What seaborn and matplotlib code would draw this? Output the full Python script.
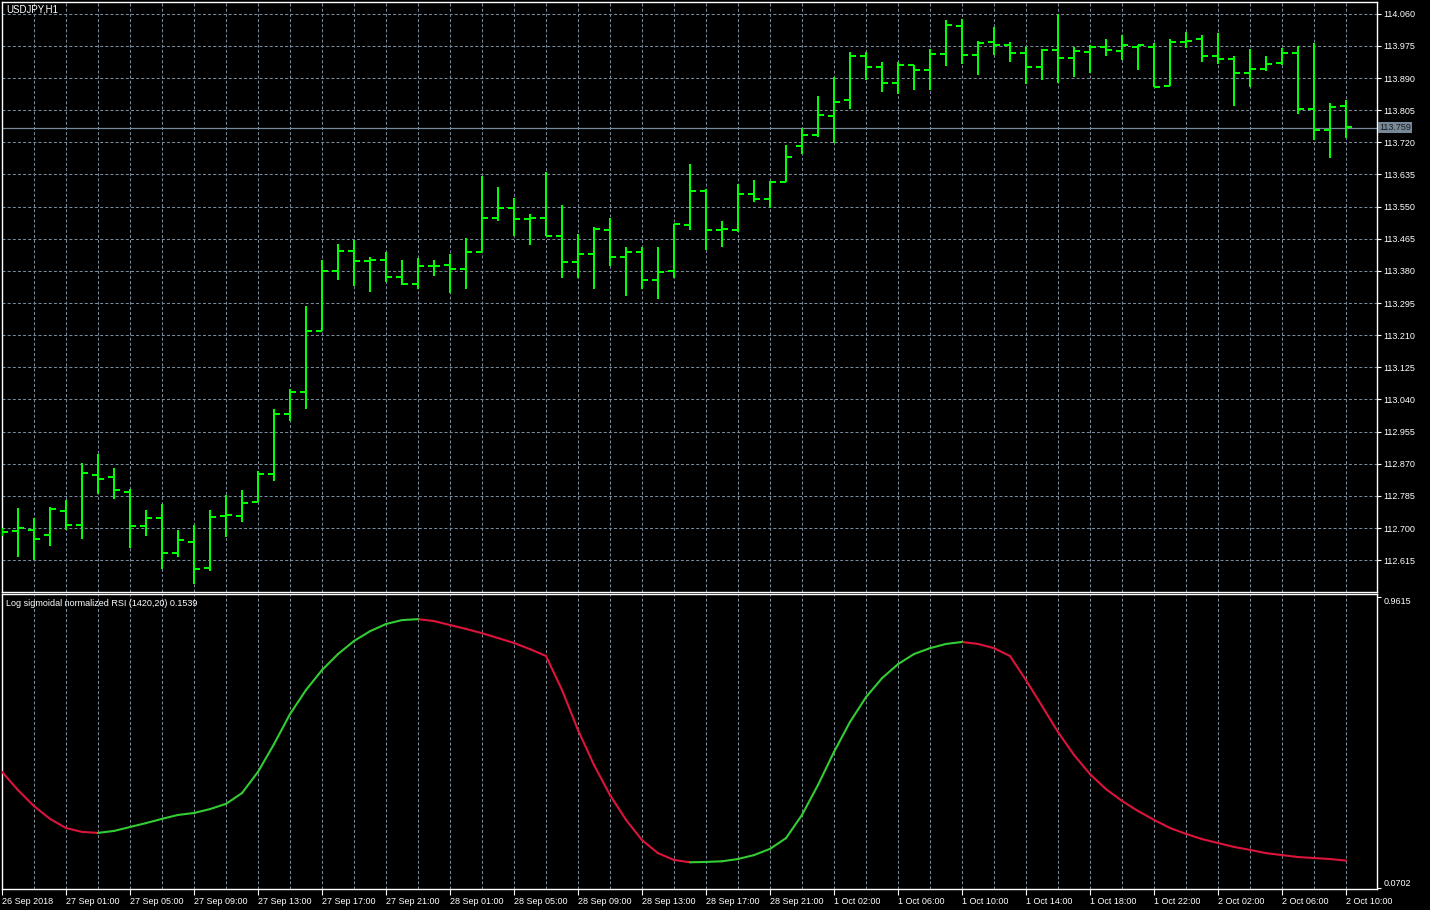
import numpy as np
import pandas as pd
import matplotlib
matplotlib.use("Agg")
import matplotlib.pyplot as plt
import seaborn as sns

# ---------------- data ----------------
symbol_title = "USDJPY,H1"
indicator_title = "Log sigmoidal normalized RSI (1420,20) 0.1539"

opens = [112.688, 112.693, 112.696, 112.682, 112.746, 112.709, 112.841, 112.836, 112.795, 112.706,
         112.727, 112.634, 112.664, 112.595, 112.733, 112.732, 112.769, 112.843, 113.001, 113.060,
         113.222, 113.380, 113.433, 113.407, 113.409, 113.363, 113.346, 113.394, 113.396, 113.385,
         113.431, 113.521, 113.547, 113.517, 113.521, 113.473, 113.404, 113.426, 113.489, 113.418,
         113.431, 113.357, 113.381, 113.502, 113.592, 113.487, 113.489, 113.583, 113.571, 113.615,
         113.709, 113.739, 113.790, 113.833, 113.948, 113.919, 113.878, 113.925, 113.911, 113.953,
         114.027, 113.950, 113.985, 113.977, 113.957, 113.918, 113.965, 113.944, 113.960, 113.971,
         113.961, 113.973, 113.973, 113.868, 113.985, 113.992, 113.947, 113.940, 113.903, 113.913,
         113.929, 113.956, 113.808, 113.752, 113.816]
highs = [112.700, 112.752, 112.726, 112.755, 112.774, 112.871, 112.896, 112.858, 112.803, 112.747,
         112.765, 112.695, 112.707, 112.749, 112.787, 112.800, 112.851, 113.015, 113.069, 113.287,
         113.408, 113.452, 113.461, 113.417, 113.429, 113.408, 113.415, 113.410, 113.424, 113.468,
         113.631, 113.601, 113.572, 113.530, 113.642, 113.554, 113.477, 113.495, 113.519, 113.444,
         113.444, 113.444, 113.505, 113.662, 113.596, 113.511, 113.610, 113.620, 113.618, 113.712,
         113.758, 113.842, 113.892, 113.959, 113.959, 113.932, 113.932, 113.925, 113.968, 114.044,
         114.046, 113.988, 114.025, 113.986, 113.972, 113.966, 114.058, 113.972, 113.978, 113.994,
         114.005, 113.978, 113.982, 113.994, 114.012, 114.005, 114.008, 113.949, 113.967, 113.949,
         113.970, 113.974, 113.983, 113.824, 113.833]
lows = [112.680, 112.624, 112.615, 112.653, 112.696, 112.672, 112.791, 112.778, 112.647, 112.680,
        112.593, 112.624, 112.553, 112.587, 112.676, 112.717, 112.768, 112.825, 112.984, 113.015,
        113.221, 113.356, 113.340, 113.325, 113.351, 113.344, 113.333, 113.367, 113.321, 113.333,
        113.431, 113.513, 113.473, 113.449, 113.473, 113.360, 113.362, 113.331, 113.394, 113.313,
        113.333, 113.305, 113.360, 113.488, 113.435, 113.442, 113.482, 113.561, 113.546, 113.615,
        113.690, 113.735, 113.719, 113.809, 113.885, 113.854, 113.847, 113.859, 113.859, 113.921,
        113.927, 113.897, 113.950, 113.932, 113.874, 113.884, 113.876, 113.892, 113.903, 113.949,
        113.937, 113.911, 113.865, 113.868, 113.969, 113.933, 113.927, 113.816, 113.865, 113.908,
        113.924, 113.794, 113.726, 113.679, 113.731]
closes = [112.690, 112.701, 112.672, 112.751, 112.709, 112.846, 112.830, 112.801, 112.706, 112.727,
          112.634, 112.669, 112.593, 112.729, 112.734, 112.767, 112.843, 113.001, 113.060, 113.222,
          113.380, 113.433, 113.407, 113.409, 113.363, 113.345, 113.393, 113.394, 113.385, 113.430,
          113.521, 113.547, 113.517, 113.521, 113.473, 113.404, 113.426, 113.492, 113.418, 113.431,
          113.357, 113.378, 113.504, 113.592, 113.487, 113.491, 113.583, 113.571, 113.615, 113.680,
          113.739, 113.793, 113.827, 113.948, 113.919, 113.878, 113.924, 113.911, 113.954, 114.030,
          113.950, 113.982, 113.977, 113.957, 113.918, 113.964, 113.942, 113.961, 113.971, 113.965,
          113.977, 113.978, 113.865, 113.985, 113.987, 113.947, 113.940, 113.903, 113.913, 113.927,
          113.956, 113.808, 113.752, 113.813, 113.760]
rsi_values = [0.426, 0.370, 0.321, 0.282, 0.254, 0.242, 0.239, 0.245, 0.257, 0.269,
              0.282, 0.294, 0.300, 0.312, 0.328, 0.361, 0.426, 0.511, 0.603, 0.677,
              0.738, 0.787, 0.827, 0.857, 0.879, 0.891, 0.894, 0.888, 0.876, 0.864,
              0.851, 0.836, 0.821, 0.802, 0.781, 0.677, 0.554, 0.447, 0.355, 0.279,
              0.217, 0.177, 0.156, 0.149, 0.150, 0.152, 0.159, 0.171, 0.190, 0.223,
              0.294, 0.386, 0.487, 0.579, 0.655, 0.713, 0.756, 0.787, 0.805, 0.818,
              0.824, 0.818, 0.805, 0.781, 0.707, 0.628, 0.548, 0.478, 0.419, 0.373,
              0.337, 0.306, 0.279, 0.254, 0.236, 0.220, 0.208, 0.196, 0.187, 0.177,
              0.171, 0.165, 0.162, 0.159, 0.154]
time_labels = ["26 Sep 2018", "27 Sep 01:00", "27 Sep 05:00", "27 Sep 09:00", "27 Sep 13:00",
               "27 Sep 17:00", "27 Sep 21:00", "28 Sep 01:00", "28 Sep 05:00", "28 Sep 09:00",
               "28 Sep 13:00", "28 Sep 17:00", "28 Sep 21:00", "1 Oct 02:00", "1 Oct 06:00",
               "1 Oct 10:00", "1 Oct 14:00", "1 Oct 18:00", "1 Oct 22:00", "2 Oct 02:00",
               "2 Oct 06:00", "2 Oct 10:00"]
price_ticks = [112.615, 112.700, 112.785, 112.870, 112.955, 113.040, 113.125, 113.210, 113.295,
               113.380, 113.465, 113.550, 113.635, 113.720, 113.805, 113.890, 113.975, 114.060]
current_price = 113.759
ind_max_label = 0.9615
ind_min_label = 0.0702

# ---------------- style ----------------
sns.set_theme(style="dark")
plt.rcParams['font.family'] = ['Liberation Sans', 'DejaVu Sans']
plt.rcParams['lines.scale_dashes'] = False

BG = "black"
GRID = "#778899"
BAR = "#00FF00"
UP = "#32CD32"
DOWN = "#DC143C"
FS = 6.5

W, H = 1430, 910
fig = plt.figure(figsize=(W / 100, H / 100), dpi=100, facecolor=BG)

def fx(px):
    return px / W

def fy(py):
    return 1 - py / H

ax = fig.add_axes([fx(2), fy(592), fx(1377) - fx(2), fy(2) - fy(592)])
ax2 = fig.add_axes([fx(2), fy(889), fx(1377) - fx(2), fy(594) - fy(889)])

n = len(closes)
bars = np.arange(n)
xmax = (1377 - 2) / 16.0
dash = (0, (2.2, 1.5))

for a in (ax, ax2):
    a.set_facecolor(BG)
    a.set_xlim(0, xmax)
    for s in a.spines.values():
        s.set_color("white")
        s.set_linewidth(1.0)
        s.set_visible(True)
    for gx in range(2, n, 2):
        a.axvline(gx, color=GRID, lw=0.75, ls=dash, zorder=0)

# ---- main price pane ----
ax.set_ylim(112.531, 114.091)
for py in price_ticks:
    ax.axhline(py, color=GRID, lw=0.75, ls=dash, zorder=0)
ax.axhline(current_price, color=GRID, lw=0.9, zorder=1)

tw = 0.36
ax.vlines(bars, lows, highs, color=BAR, lw=1.45, zorder=3)
ax.hlines(opens, bars - tw, bars, color=BAR, lw=1.45, zorder=3)
ax.hlines(closes, bars, bars + tw, color=BAR, lw=1.45, zorder=3)

ax.yaxis.tick_right()
ax.set_yticks(price_ticks)
ax.set_yticklabels([f"{p:.3f}" for p in price_ticks])
ax.tick_params(axis="y", colors="white", labelcolor="white", labelsize=FS,
               direction="out", length=3, width=0.8, pad=1.5, right=True, left=False)
ax.set_xticks([])
ax.set_xlabel("")
ax.set_ylabel("")
ax.text(1.0, current_price, f"{current_price:.3f}", transform=ax.get_yaxis_transform(),
        ha="left", va="center", fontsize=FS, color="#1a1a1a",
        bbox=dict(boxstyle="square,pad=0.15", fc=GRID, ec="none"),
        position=(1.0015, current_price), zorder=5, clip_on=False)

fig.text(fx(6), fy(10), symbol_title, color="white", fontsize=FS + 0.5, ha="left", va="center")

# ---- indicator pane ----
ax2.set_ylim(0.0671, 0.971)
rows = []
for i in range(n - 1):
    d = "up" if rsi_values[i + 1] >= rsi_values[i] else "down"
    rows.append((bars[i], rsi_values[i], d, i))
    rows.append((bars[i + 1], rsi_values[i + 1], d, i))
df = pd.DataFrame(rows, columns=["bar", "val", "dir", "seg"])
sns.lineplot(data=df, x="bar", y="val", hue="dir", units="seg", estimator=None,
             palette={"up": UP, "down": DOWN}, lw=1.5, legend=False, sort=False,
             ax=ax2, zorder=3)
ax2.set_xlim(0, xmax)
ax2.set_xlabel("")
ax2.set_ylabel("")

ax2.yaxis.tick_right()
ax2.set_yticks([ind_max_label, ind_min_label])
ax2.set_yticklabels([f"{ind_max_label:.4f}", f"{ind_min_label:.4f}"])
ax2.tick_params(axis="y", colors="white", labelcolor="white", labelsize=FS,
                direction="out", length=3, width=0.8, pad=1.5, right=True, left=False)
ylabs = ax2.get_yticklabels()
ylabs[0].set_va("top")
ylabs[1].set_va("bottom")

ax2.set_xticks(list(range(0, n, 4)))
ax2.set_xticklabels(time_labels)
ax2.tick_params(axis="x", colors="white", labelcolor="white", labelsize=FS,
                direction="out", length=4, width=0.8, pad=2, bottom=True)
for lab in ax2.get_xticklabels():
    lab.set_ha("left")

fig.text(fx(6), fy(604), indicator_title, color="white", fontsize=FS, ha="left", va="center")

fig.savefig("out.png", dpi=100, facecolor=BG)
